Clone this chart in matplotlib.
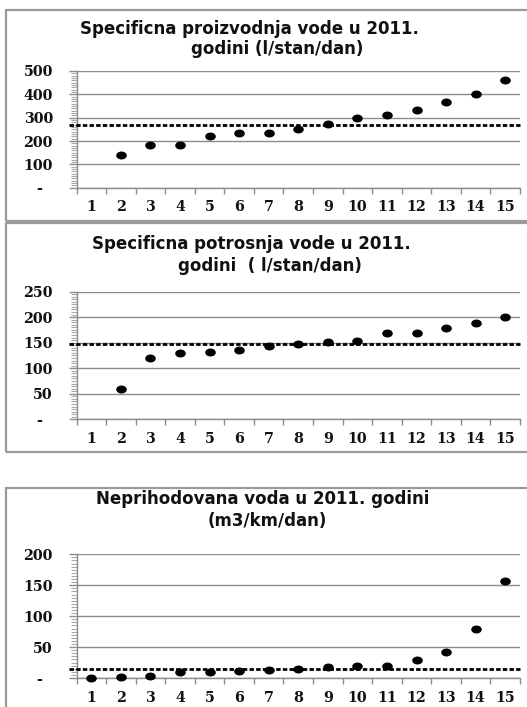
import numpy as np
import matplotlib
matplotlib.use("Agg")
import matplotlib.pyplot as plt
from matplotlib.patches import Rectangle
from matplotlib.path import Path
from matplotlib.markers import MarkerStyle
from matplotlib.transforms import Affine2D
from matplotlib.ticker import MultipleLocator, FixedLocator

# ---------------- data ----------------
categories = list(range(1, 16))
proizvodnja = [np.nan, 141, 184, 184, 220, 233, 236, 251, 273, 299, 310, 334, 367, 400, 463]
potrosnja = [np.nan, 60, 119, 129, 132, 136, 143, 148, 152, 154, 168, 169, 179, 189, 200]
neprihodovana = [0.5, 1.6, 4, 10, 9, 12, 13, 14.5, 18, 20, 20, 28.5, 42.5, 78.5, 157.5]
avg_proizvodnja = 267
avg_potrosnja = 148
avg_neprihodovana = 14

titles = [
    ("Specificna proizvodnja vode u 2011.", "godini (l/stan/dan)"),
    ("Specificna potrosnja vode u 2011.", "godini  ( l/stan/dan)"),
    ("Neprihodovana voda u 2011. godini", "(m3/km/dan)"),
]
y_max = [500, 250, 200]
y_step = [100, 50, 50]
y_minor = [10, 5, 5]

# ---------------- layout helpers ----------------
W, H = 527, 707
fig = plt.figure(figsize=(W / 100, H / 100), dpi=100)
fig.patch.set_facecolor("white")


def rect_px(left, right, top, bottom):
    return [left / W, 1 - bottom / H, (right - left) / W, (bottom - top) / H]


GRID = "#8c8c8c"
FRAME = "#9a9a9a"
tick_font = dict(family="DejaVu Serif", weight="bold", size=10.3)
title_font = dict(family="DejaVu Sans", weight="bold", size=12.0)

# ellipse marker (wider than tall)
ell = Path.unit_circle().transformed(Affine2D().scale(1.4, 1.0))
marker = MarkerStyle(ell)

panels = [
    dict(frame=(6, 560, 10, 221), ax=(76.5, 520, 71, 187.7),
         tl=[(249.6, 34), (277, 54.5)], data=proizvodnja, avg=avg_proizvodnja),
    dict(frame=(6, 560, 223, 452), ax=(76.5, 520, 291.5, 419.3),
         tl=[(251, 249), (270, 270.5)], data=potrosnja, avg=avg_potrosnja),
    dict(frame=(6, 560, 488, 740), ax=(76.5, 520, 554.3, 678),
         tl=[(263, 504.5), (267, 526)], data=neprihodovana, avg=avg_neprihodovana),
]

for i, p in enumerate(panels):
    fl, fr, ft, fb = p["frame"]
    fig.patches.append(Rectangle((fl / W, 1 - fb / H), (fr - fl) / W, (fb - ft) / H,
                                 transform=fig.transFigure, fill=False,
                                 edgecolor=FRAME, linewidth=1.6))
    for (cx, by), txt in zip(p["tl"], titles[i]):
        fig.text(cx / W, 1 - by / H, txt, ha="center", va="baseline",
                 color="#111111", **title_font)

    ax = fig.add_axes(rect_px(*p["ax"]))
    ax.set_facecolor("white")
    ax.set_xlim(0.5, 15.5)
    ax.set_ylim(0, y_max[i])

    # gridlines
    yt = np.arange(0, y_max[i] + 1, y_step[i])
    ax.set_yticks(yt)
    ylabels = ["-  " if v == 0 else f"{int(v)}" for v in yt]
    ax.set_yticklabels(ylabels, **tick_font)
    ax.yaxis.set_minor_locator(MultipleLocator(y_minor[i]))
    ax.yaxis.grid(True, which="major", color=GRID, linewidth=1.0)
    ax.set_axisbelow(True)

    # x: labels at centers, ticks at boundaries
    ax.xaxis.set_major_locator(FixedLocator(categories))
    ax.set_xticklabels([str(c) for c in categories], **tick_font)
    ax.xaxis.set_minor_locator(FixedLocator(np.arange(0.5, 16, 1.0)))

    ax.tick_params(axis="x", which="major", length=0, pad=9, colors="#111111")
    ax.tick_params(axis="x", which="minor", length=4, width=1, color=GRID, direction="out")
    ax.tick_params(axis="y", which="major", length=6, width=1, color=GRID, direction="out",
                   pad=11, labelcolor="#111111")
    ax.tick_params(axis="y", which="minor", length=4, width=0.8, color="#aaaaaa", direction="out")

    for s in ("top", "right"):
        ax.spines[s].set_visible(False)
    for s in ("left", "bottom"):
        ax.spines[s].set_color(GRID)
        ax.spines[s].set_linewidth(1.0)

    # average line
    ax.axhline(p["avg"], xmin=-0.018, xmax=1.0, color="black", linewidth=2.0,
               linestyle=(0, (1.6, 0.8)), clip_on=False, zorder=3)
    # points
    ax.plot(categories, p["data"], linestyle="none", marker=marker, markersize=6.6,
            color="black", zorder=4, clip_on=False)

fig.savefig("out.png", dpi=100, facecolor="white")
